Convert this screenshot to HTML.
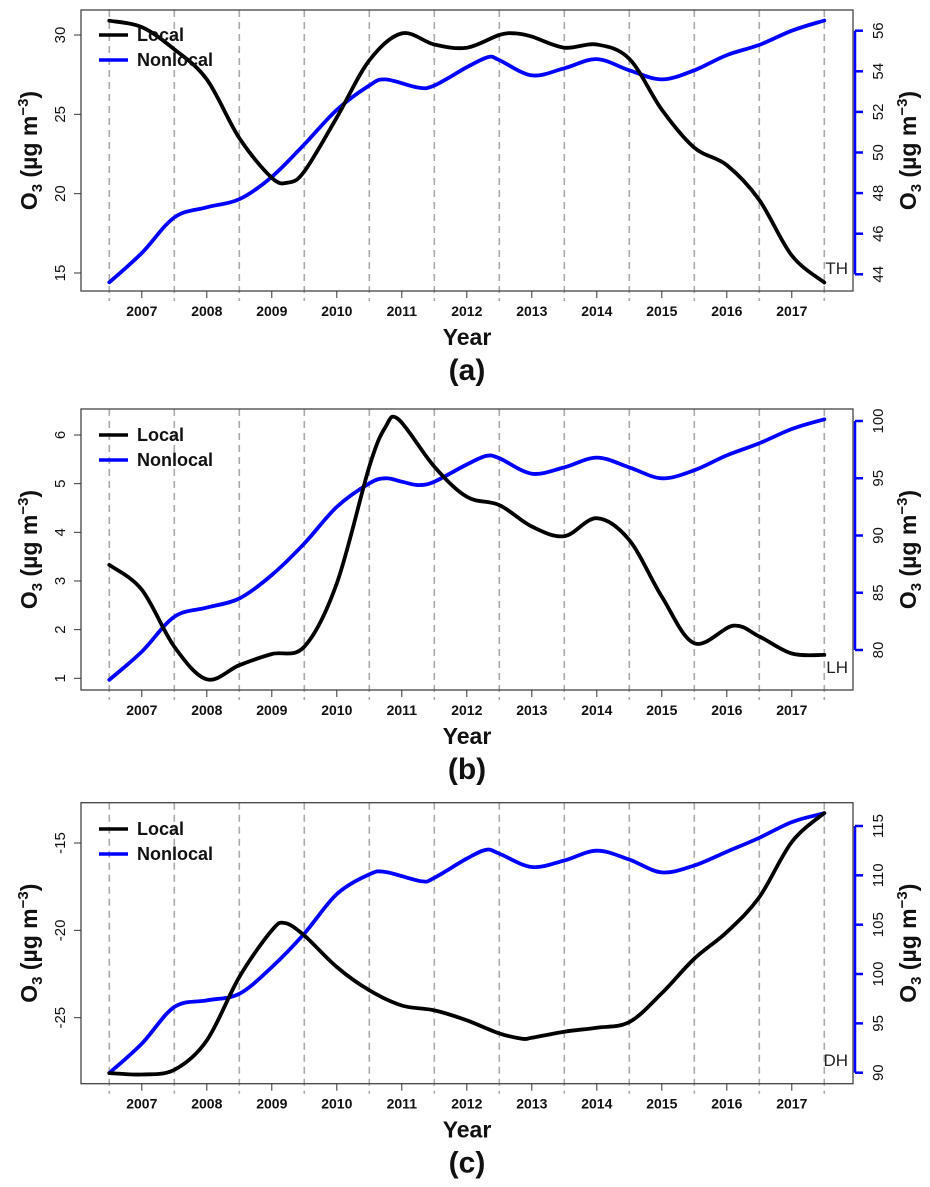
<!DOCTYPE html>
<html><head><meta charset="utf-8"><style>
html,body{margin:0;padding:0;background:#fff;}
svg{display:block;font-family:"Liberation Sans",Arial,sans-serif;}
</style></head><body>
<svg id="fig" width="930" height="1187" viewBox="0 0 930 1187"></svg>
<script>
const years = [2007,2008,2009,2010,2011,2012,2013,2014,2015,2016,2017];
// panel (a) TH
const tA_local = [2006.5,2007,2007.5,2008,2008.5,2009,2009.25,2009.5,2010,2010.5,2011,2011.5,2012,2012.5,2012.75,2013,2013.5,2014,2014.5,2015,2015.5,2016,2016.5,2017,2017.5];
const vA_local = [30.9,30.5,29.1,27.2,23.5,21.0,20.7,21.4,24.8,28.4,30.1,29.4,29.2,30.0,30.1,29.9,29.2,29.4,28.5,25.3,22.9,21.8,19.6,16.1,14.4];
const tA_non = [2006.5,2007,2007.5,2008,2008.5,2009,2009.5,2010,2010.5,2010.75,2011.25,2011.5,2012,2012.33,2012.5,2013,2013.5,2014,2014.5,2015,2015.5,2016,2016.5,2017,2017.5];
const vA_non = [43.6,45.05,46.8,47.3,47.7,48.8,50.4,52.1,53.3,53.6,53.2,53.3,54.2,54.7,54.55,53.8,54.15,54.6,54.05,53.6,54.05,54.8,55.3,56.0,56.5];
// panel (b) LH
const tB_local = [2006.5,2007,2007.5,2008,2008.5,2009,2009.5,2010,2010.5,2010.75,2010.95,2011.5,2012,2012.5,2013,2013.5,2014,2014.5,2015,2015.5,2016.1,2016.5,2017,2017.5];
const vB_local = [3.33,2.82,1.65,0.98,1.27,1.5,1.65,2.95,5.35,6.17,6.32,5.35,4.73,4.56,4.12,3.92,4.29,3.84,2.68,1.72,2.08,1.86,1.51,1.48];
const tB_non = [2006.5,2007,2007.5,2008,2008.5,2009,2009.5,2010,2010.5,2010.75,2011,2011.25,2011.5,2012,2012.3,2012.5,2013,2013.5,2014,2014.5,2015,2015.5,2016,2016.5,2017,2017.5];
const vB_non = [77.4,79.85,82.9,83.7,84.5,86.55,89.3,92.5,94.55,95.0,94.7,94.4,94.7,96.2,96.95,96.75,95.4,95.95,96.8,95.95,95.0,95.7,97.0,98.05,99.3,100.15];
// panel (c) DH
const tC_local = [2006.5,2007,2007.5,2008,2008.5,2009,2009.2,2009.5,2010,2010.5,2011,2011.5,2012,2012.5,2012.85,2013,2013.5,2014,2014.5,2015,2015.5,2016,2016.5,2017,2017.5];
const vC_local = [-28.17,-28.25,-27.98,-26.3,-22.67,-20.0,-19.58,-20.29,-22.1,-23.43,-24.3,-24.58,-25.15,-25.9,-26.2,-26.15,-25.8,-25.57,-25.25,-23.6,-21.62,-20.1,-18.1,-14.94,-13.28];
const tC_non = [2006.5,2007,2007.5,2008,2008.5,2009,2009.5,2010,2010.5,2010.75,2011.3,2011.5,2012,2012.3,2012.5,2013,2013.5,2014,2014.5,2015,2015.5,2016,2016.5,2017,2017.5];
const vC_non = [89.97,92.94,96.66,97.33,98.0,100.7,104.1,108.1,110.1,110.34,109.4,109.75,111.7,112.6,112.2,110.85,111.5,112.5,111.6,110.3,111.0,112.4,113.8,115.4,116.3];
const ticksA_left = [15,20,25,30], ticksA_right = [44,46,48,50,52,54,56];
const ticksB_left = [1,2,3,4,5,6], ticksB_right = [80,85,90,95,100];
const ticksC_left = [-25,-20,-15], ticksC_right = [90,95,100,105,110,115];

const NS = "http://www.w3.org/2000/svg";
const svg = document.getElementById('fig');
function mk(tag, attrs, parent, text){
  const e = document.createElementNS(NS, tag);
  for (const k in attrs) e.setAttribute(k, attrs[k]);
  if (text !== undefined) e.textContent = text;
  (parent||svg).appendChild(e);
  return e;
}
const X0 = 81, X1 = 853;
const xs = t => 109.3 + (t - 2006.5) * 65;

function smoothPath(pts){
  let d = "M" + pts[0][0].toFixed(1) + "," + pts[0][1].toFixed(1);
  for (let i = 0; i < pts.length - 1; i++){
    const p0 = pts[i-1] || pts[i], p1 = pts[i], p2 = pts[i+1], p3 = pts[i+2] || p2;
    const c1x = p1[0] + (p2[0]-p0[0])/6, c1y = p1[1] + (p2[1]-p0[1])/6;
    const c2x = p2[0] - (p3[0]-p1[0])/6, c2y = p2[1] - (p3[1]-p1[1])/6;
    d += " C" + c1x.toFixed(1)+","+c1y.toFixed(1)+" "+c2x.toFixed(1)+","+c2y.toFixed(1)+" "+p2[0].toFixed(1)+","+p2[1].toFixed(1);
  }
  return d;
}

function panel(cfg){
  const g = mk('g', {});
  
  
  const top = cfg.top, bot = cfg.bot;
  const yl = v => cfg.l1y + (v - cfg.l1) * (cfg.l2y - cfg.l1y) / (cfg.l2 - cfg.l1);
  const yr = v => cfg.r1y + (v - cfg.r1) * (cfg.r2y - cfg.r1y) / (cfg.r2 - cfg.r1);
  for (let k = 0; k <= 11; k++){
    const x = xs(2006.5 + k);
    const l = mk('line', {x1:x, x2:x, y1:top, y2:bot+10, stroke:'#aaa', 'stroke-width':1.6, 'stroke-dasharray':'7,5'}, g);
    
    
  }
  const box = mk('rect', {x:X0, y:top, width:X1-X0, height:bot-top, fill:'none', stroke:'#444', 'stroke-width':1.3}, g);
  
  
  years.forEach(yv => {
    const x = xs(yv);
    mk('line', {x1:x, x2:x, y1:bot, y2:bot+7, stroke:'#333', 'stroke-width':1}, g);
    const t = mk('text', {x:x, y:bot+25, 'text-anchor':'middle', 'font-size':14, 'font-weight':'bold', fill:'#111'}, g, String(yv));
    
    
  });
  cfg.tl.forEach(v => {
    const y = yl(v);
    mk('line', {x1:X0-7, x2:X0, y1:y, y2:y, stroke:'#333', 'stroke-width':1}, g);
    const t = mk('text', {x:0, y:0, transform:'translate(65,'+y+') rotate(-90)', 'text-anchor':'middle', 'font-size':15, fill:'#111'}, g, String(v));
    
    
  });
  const ya = yr(cfg.tr[0]), yb = yr(cfg.tr[cfg.tr.length-1]);
  const ax = mk('line', {x1:X1+2, x2:X1+2, y1:ya, y2:yb, stroke:'#0000ff', 'stroke-width':2.5}, g);
  
  
  cfg.tr.forEach(v => {
    const y = yr(v);
    mk('line', {x1:X1+2, x2:X1+10, y1:y, y2:y, stroke:'#0000ff', 'stroke-width':2.5}, g);
    const t = mk('text', {x:0, y:0, transform:'translate(883,'+y+') rotate(-90)', 'text-anchor':'middle', 'font-size':15, fill:'#111'}, g, String(v));
    
    
  });
  const mid = (top+bot)/2;
  const lt = mk('text', {x:0, y:0, transform:'translate(37,'+mid+') rotate(-90)', 'text-anchor':'middle', 'font-size':23, 'font-weight':'bold', fill:'#111'}, g);
  lt.innerHTML = 'O<tspan font-size="15" dy="5">3</tspan><tspan dy="-5"> (µg m</tspan><tspan font-size="15" dy="-9">−3</tspan><tspan dy="9">)</tspan>';
  
  
  const rt = mk('text', {x:0, y:0, transform:'translate(916,'+mid+') rotate(-90)', 'text-anchor':'middle', 'font-size':23, 'font-weight':'bold', fill:'#111'}, g);
  rt.innerHTML = 'O<tspan font-size="15" dy="5">3</tspan><tspan dy="-5"> (µg m</tspan><tspan font-size="15" dy="-9">−3</tspan><tspan dy="9">)</tspan>';
  
  
  const xt = mk('text', {x:467, y:bot+54, 'text-anchor':'middle', 'font-size':23, 'font-weight':'bold', fill:'#111'}, g, 'Year');
  
  
  const pl = mk('text', {x:467, y:bot+89, 'text-anchor':'middle', 'font-size':30, 'font-weight':'bold', fill:'#111'}, g, '(' + cfg.id + ')');
  
  
  const pn = cfg.tn.map((t,i) => [xs(t), yr(cfg.vn[i])]);
  const nl = mk('path', {d:smoothPath(pn), fill:'none', stroke:'#0000ff', 'stroke-width':3.8, 'stroke-linejoin':'round', 'stroke-linecap':'round'}, g);
  
  
  const pLoc = cfg.tlc.map((t,i) => [xs(t), yl(cfg.vl[i])]);
  const ll = mk('path', {d:smoothPath(pLoc), fill:'none', stroke:'#000', 'stroke-width':3.8, 'stroke-linejoin':'round', 'stroke-linecap':'round'}, g);
  
  
  const lg = mk('g', {}, g);
  
  
  const ly = cfg.legY;
  mk('line', {x1:99, x2:128, y1:ly, y2:ly, stroke:'#000', 'stroke-width':3.5}, lg);
  const e1 = mk('text', {x:137, y:ly+6, 'font-size':18, 'font-weight':'bold', fill:'#111'}, lg, 'Local');
  
  
  mk('line', {x1:99, x2:128, y1:ly+25, y2:ly+25, stroke:'#0000ff', 'stroke-width':3.5}, lg);
  const e2 = mk('text', {x:137, y:ly+31, 'font-size':18, 'font-weight':'bold', fill:'#111'}, lg, 'Nonlocal');
  
  
  const site = mk('text', {x:848, y:cfg.siteY, 'text-anchor':'end', 'font-size':17, fill:'#222'}, g, cfg.site);
  
  
}

panel({id:'a', top:10, bot:291, l1:30, l1y:35, l2:15, l2y:273, r1:56, r1y:30.7, r2:44, r2y:274.3,
  tl:ticksA_left, tr:ticksA_right, tlc:tA_local, vl:vA_local, tn:tA_non, vn:vA_non, legY:35, site:'TH', siteY:274});
panel({id:'b', top:409, bot:690, l1:6, l1y:435, l2:1, l2y:678.3, r1:100, r1y:421, r2:80, r2y:650,
  tl:ticksB_left, tr:ticksB_right, tlc:tB_local, vl:vB_local, tn:tB_non, vn:vB_non, legY:435, site:'LH', siteY:673});
panel({id:'c', top:802.7, bot:1083.7, l1:-15, l1y:843, l2:-25, l2y:1017.7, r1:115, r1y:826, r2:90, r2y:1072.7,
  tl:ticksC_left, tr:ticksC_right, tlc:tC_local, vl:vC_local, tn:tC_non, vn:vC_non, legY:829, site:'DH', siteY:1066});
</script>
</body></html>
